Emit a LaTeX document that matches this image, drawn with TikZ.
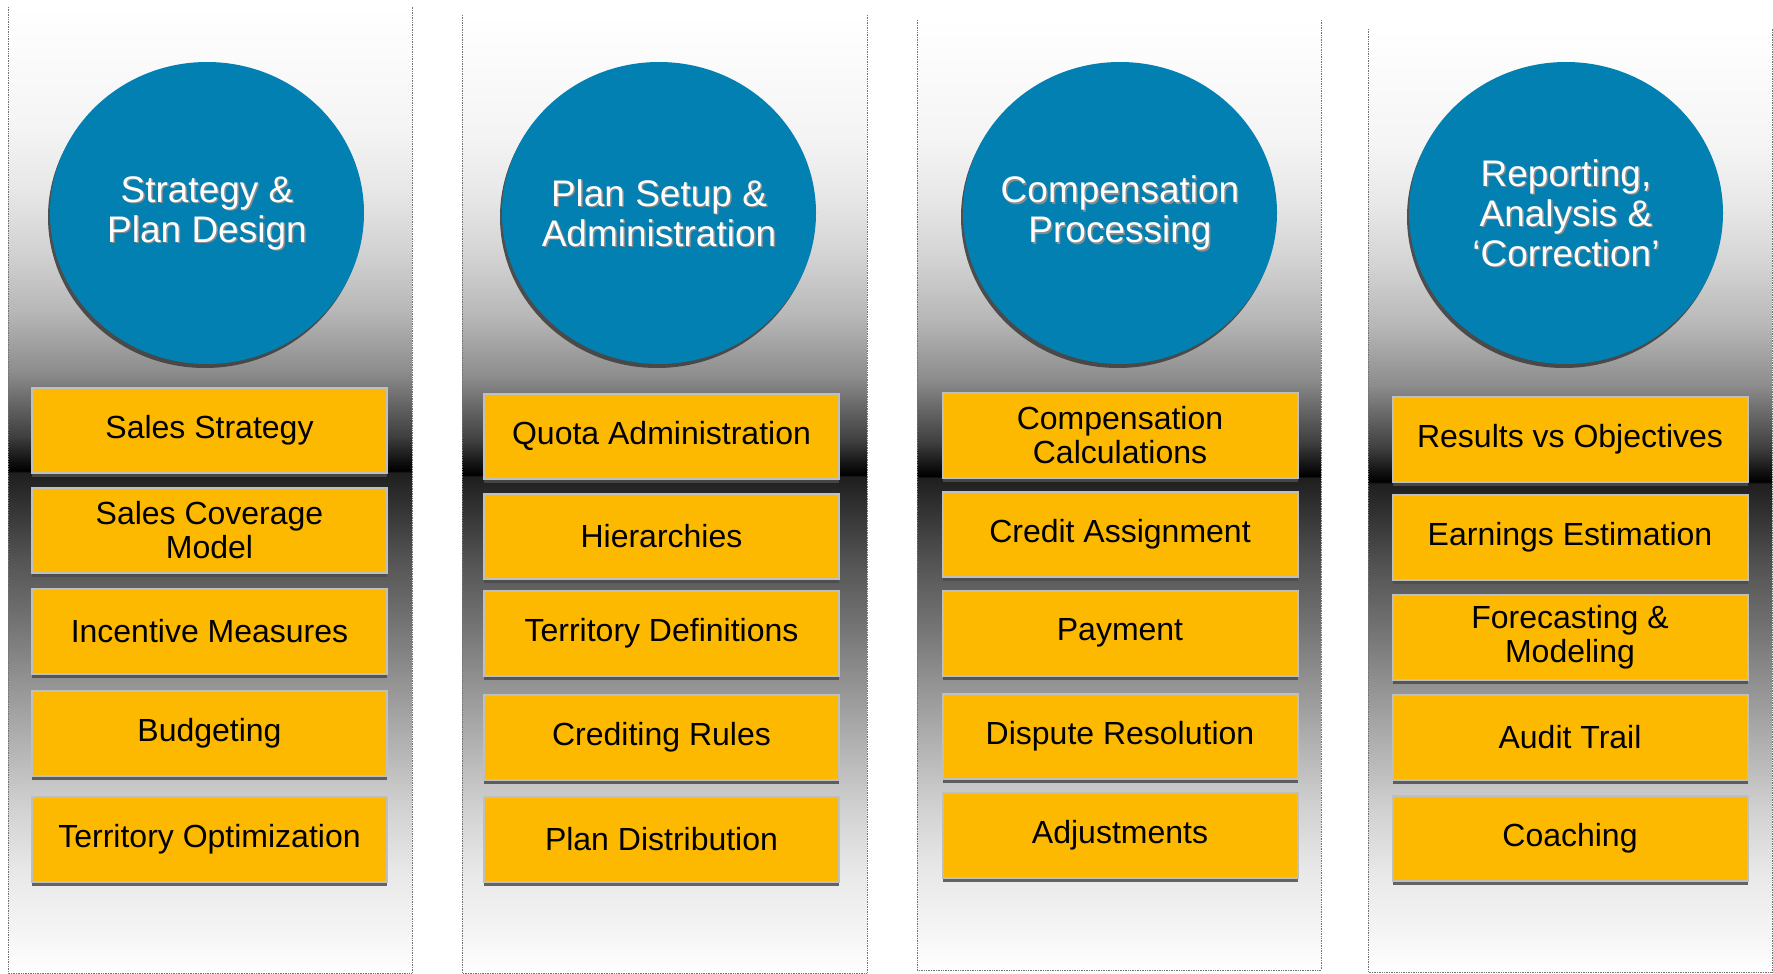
\documentclass[tikz,border=0pt]{standalone}
\usepackage{fontspec}
\setmainfont{Liberation Sans}
\usetikzlibrary{shapes.geometric}
\usetikzlibrary{shadows}

\definecolor{phaseblue}{RGB}{2,128,178}
\definecolor{taskgold}{RGB}{253,185,0}

\pgfdeclareverticalshading{panelgrad}{100bp}{color(0bp)=(white); color(25bp)=(white);
  color(27.1bp)=(black!4); color(30.3bp)=(black!9); color(33.6bp)=(black!18);
  color(36.8bp)=(black!30); color(40bp)=(black!42); color(43.2bp)=(black!55);
  color(46.4bp)=(black!67); color(49.6bp)=(black!82); color(50.9bp)=(black!88);
  color(51bp)=(black); color(51.6bp)=(black!92); color(52.8bp)=(black!75);
  color(54.5bp)=(black!60); color(56.1bp)=(black!45); color(59.3bp)=(black!28);
  color(62.5bp)=(black!17); color(65.7bp)=(black!9); color(68.9bp)=(black!4);
  color(75bp)=(white); color(100bp)=(white)}

\begin{document}
\begin{tikzpicture}[x=1pt,y=-1pt,
  panel/.style={shading=panelgrad},
  edge/.style={draw=black!55, densely dotted, line width=0.7pt},
  phase/.style={ellipse, fill=phaseblue, minimum width=314pt, minimum height=302pt, inner sep=0pt,
    drop shadow={shadow xshift=-2pt, shadow yshift=-4pt, fill=black!75, opacity=0.9}},
  phasetext/.style={text=white, align=center, font=\fontsize{37}{40}\selectfont},
  phaseshade/.style={phasetext, text=black!45},
  task/.style={rectangle, fill=taskgold, draw=black!25, line width=2pt, minimum width=355pt,
    minimum height=85pt, inner sep=0pt, align=center, font=\fontsize{32}{34}\selectfont,
    drop shadow={shadow xshift=0pt, shadow yshift=-4pt, fill=black!70, opacity=0.85}}]

\useasboundingbox (0,0) rectangle (1773,974);

% panels
\shade[panel] (8,7) rectangle (412,973);
\draw[edge] (8,7) |- (412,973) -- (412,7);
\shade[panel] (462,15) rectangle (867,973);
\draw[edge] (462,15) |- (867,973) -- (867,15);
\shade[panel] (917,20) rectangle (1321,970);
\draw[edge] (917,20) |- (1321,970) -- (1321,20);
\shade[panel] (1368,29) rectangle (1772,972);
\draw[edge] (1368,29) |- (1772,972) -- (1772,29);

% first column
\node[phase] (c1) at (207,213) {};
\node[phaseshade] at ([xshift=1.5pt,yshift=-1.5pt]c1) {Strategy \&\\Plan Design};
\node[phasetext] (t1) at (c1) {Strategy \&\\Plan Design};

\node[task] (s1) at (209.5,430) {Sales Strategy};

\node[task] (s2) at (209.5,530.5) {Sales Coverage\\Model};

\node[task] (s3) at (209.5,631) {Incentive Measures};

\node[task] (s4) at (209.5,733.5) {Budgeting};

\node[task] (s5) at (209.5,839.5) {Territory Optimization};

% second column
\node[phase] (c2) at (659,213) {};
\node[phaseshade] at ([xshift=1.5pt,yshift=-1.5pt]c2) {Plan Setup \&\\Administration};
\node[phasetext] (t2) at (c2) {Plan Setup \&\\Administration};

\node[task] (a1) at (661.5,436) {Quota Administration};

\node[task] (a2) at (661.5,536) {Hierarchies};

\node[task] (a3) at (661.5,633.5) {Territory Definitions};

\node[task] (a4) at (661.5,737.5) {Crediting Rules};

\node[task] (a5) at (661.5,839) {Plan Distribution};

% third column
\node[phase] (c3) at (1120,213) {};
\node[phaseshade] at ([xshift=1.5pt,yshift=-1.5pt]c3) {Compensation\\Processing};
\node[phasetext] (t3) at (c3) {Compensation\\Processing};

\node[task] (p1) at (1120,435) {Compensation\\Calculations};

\node[task] (p2) at (1120,534) {Credit Assignment};

\node[task] (p3) at (1120,633) {Payment};

\node[task] (p4) at (1120,736) {Dispute Resolution};

\node[task] (p5) at (1120,835.5) {Adjustments};

% fourth column
\node[phase] (c4) at (1566,213) {};
\node[phaseshade] at ([xshift=1.5pt,yshift=-1.5pt]c4) {Reporting,\\Analysis \&\\`Correction'};
\node[phasetext] (t4) at (c4) {Reporting,\\Analysis \&\\`Correction'};

\node[task] (r1) at (1570,439.5) {Results vs Objectives};

\node[task] (r2) at (1570,537.5) {Earnings Estimation};

\node[task] (r3) at (1570,637) {Forecasting \&\\Modeling};

\node[task] (r4) at (1570,737.5) {Audit Trail};

\node[task] (r5) at (1570,838) {Coaching};

\end{tikzpicture}
\end{document}
